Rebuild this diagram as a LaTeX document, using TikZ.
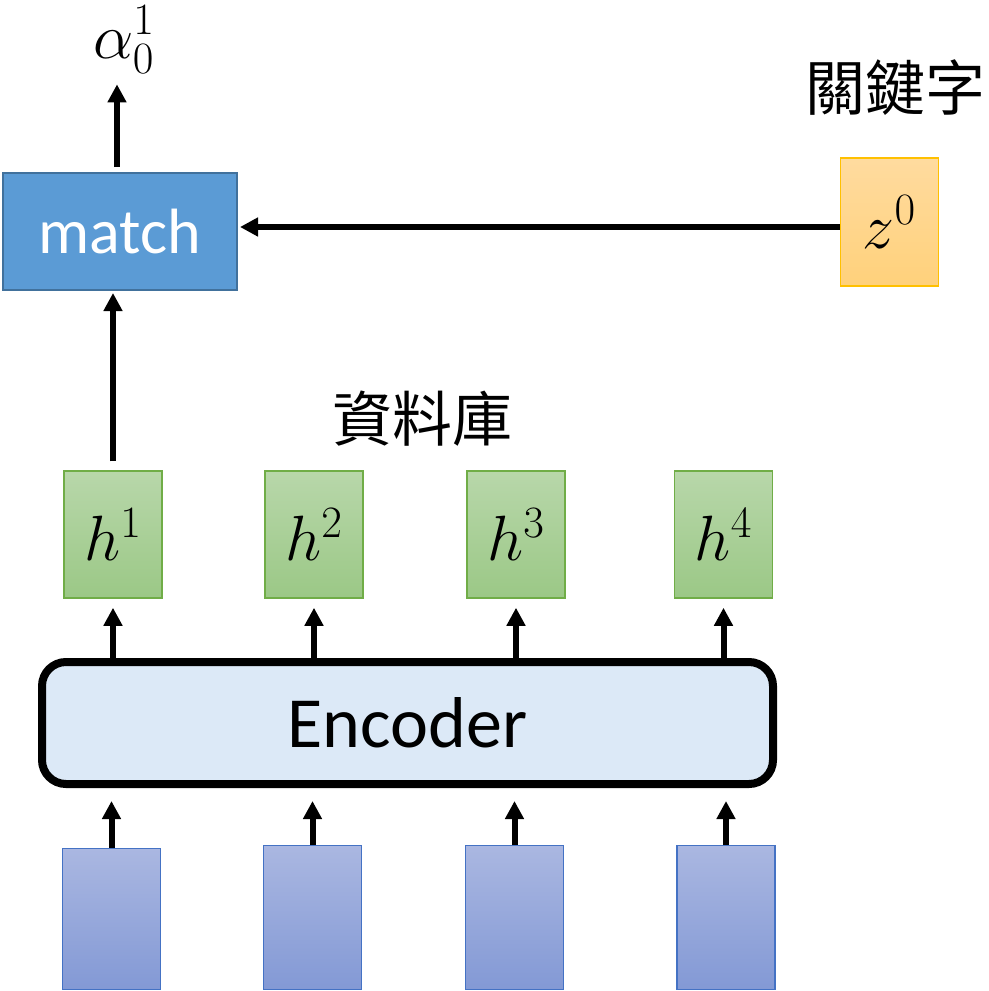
\RequirePackage{fix-cm}
\documentclass[tikz,border=0pt]{standalone}
\usepackage[no-math]{fontspec}
\setmainfont{Carlito}
\newfontfamily\cjk{Noto Sans CJK TC}
\usetikzlibrary{arrows.meta}

\definecolor{matchfill}{HTML}{5B9BD5}
\definecolor{matchline}{HTML}{41719C}
\definecolor{keytop}{HTML}{FFDB9F}
\definecolor{keybot}{HTML}{FFD17B}
\definecolor{keyline}{HTML}{FFC000}
\definecolor{htop}{HTML}{B8D7AA}
\definecolor{hbot}{HTML}{9BC886}
\definecolor{hline}{HTML}{70AD47}
\definecolor{intop}{HTML}{AAB7E1}
\definecolor{inbot}{HTML}{8399D5}
\definecolor{inline}{HTML}{4472C4}
\definecolor{encfill}{HTML}{DCE9F7}

\begin{document}
\begin{tikzpicture}[x=0.5pt,y=-0.5pt,
  conn/.style={line width=3pt,-{Triangle[length=9pt,width=9pt]}},
  matchbox/.style={draw=matchline,line width=1pt,fill=matchfill,
    minimum width=117pt,minimum height=58.5pt,inner sep=0pt,
    text=white,font=\fontsize{32}{38}\selectfont},
  keybox/.style={draw=keyline,line width=0.75pt,top color=keytop,bottom color=keybot,
    minimum width=49pt,minimum height=64pt,inner sep=0pt,
    font=\fontsize{32}{38}\selectfont},
  hbox/.style={draw=hline,line width=0.75pt,top color=htop,bottom color=hbot,
    minimum width=49pt,minimum height=63.5pt,inner sep=0pt,
    font=\fontsize{32}{38}\selectfont},
  inbox/.style={draw=inline,line width=0.75pt,top color=intop,bottom color=inbot,
    minimum width=49pt,minimum height=70.5pt,inner sep=0pt},
  encbox/.style={draw=black,line width=4pt,fill=encfill,rounded corners=12pt,
    minimum width=365.5pt,minimum height=61pt,inner sep=0pt,
    font=\fontsize{36}{42}\selectfont},
  cjklabel/.style={font=\cjk\fontsize{30}{36}\selectfont,inner sep=0pt},
  mathlabel/.style={font=\fontsize{32}{38}\selectfont,inner sep=0pt}]

\useasboundingbox (0,0) rectangle (989,991);

% upper part: matching the keyword against a stored vector
\node[matchbox] (match) at (120,231.5) {match};
\node[mathlabel] (alpha) at (124,40) {$\alpha_0^1$};
\node[keybox] (z0) at (889.5,222) {$z^0$};
\node[cjklabel] (keyword) at (895,88) {關鍵字};
\node[cjklabel] (database) at (422,419) {資料庫};

% stored vectors
\node[hbox] (h1) at (113,534.5) {$h^1$};
\node[hbox] (h2) at (314,534.5) {$h^2$};
\node[hbox] (h3) at (516,534.5) {$h^3$};
\node[hbox] (h4) at (723.5,534.5) {$h^4$};

% encoder
\node[encbox] (enc) at (407.5,723) {Encoder};

% inputs
\node[inbox] (in1) at (111.5,919) {};
\node[inbox,minimum height=72pt] (in2) at (312.5,917.5) {};
\node[inbox,minimum height=72pt] (in3) at (514.5,917.5) {};
\node[inbox,minimum height=72pt] (in4) at (726,917.5) {};

% connectors
\draw[conn,shorten <=2.5pt,shorten >=5pt] ([xshift=-1.5pt]match.north) -- ([xshift=-1.5pt]match.north |- alpha.south);
\draw[conn,shorten >=1pt] ([yshift=-2.5pt]z0.west) -- ([yshift=-2.5pt]z0.west -| match.east);
\draw[conn,shorten <=4.5pt,shorten >=1pt] (h1.north) -- (h1.north |- match.south);

\foreach \i in {1,2,3,4}{
  \draw[conn,shorten >=4.5pt] (enc.north -| h\i.south) -- (h\i.south);
  \draw[conn,shorten >=6.5pt] (in\i.north) -- (in\i.north |- enc.south);
}
\end{tikzpicture}
\end{document}
